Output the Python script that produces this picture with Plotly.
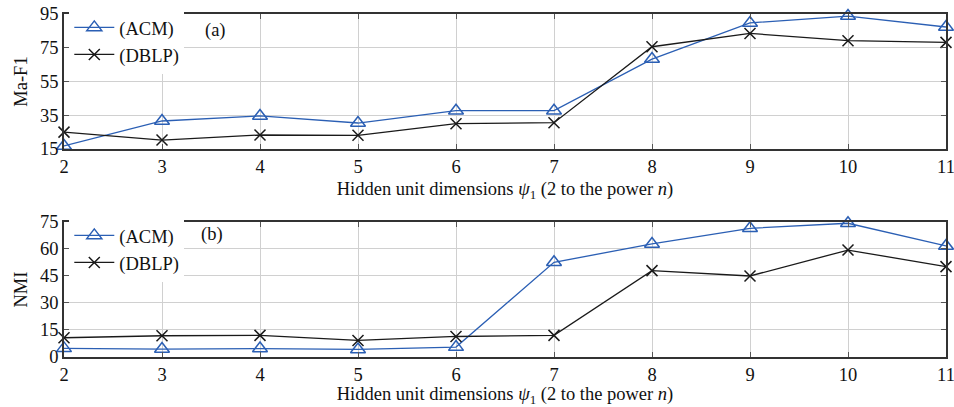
import plotly.graph_objects as go

n_values = [2, 3, 4, 5, 6, 7, 8, 9, 10, 11]
maf1_acm = [16.8, 31.6, 34.6, 30.4, 37.7, 37.7, 68.3, 89.7, 93.8, 87.3]
maf1_dblp = [25.0, 20.3, 23.3, 23.1, 30.0, 30.6, 75.6, 83.5, 79.2, 78.2]
nmi_acm = [4.8, 4.4, 4.7, 4.2, 5.5, 52.6, 62.8, 71.5, 74.3, 61.7]
nmi_dblp = [10.7, 11.8, 12.0, 9.2, 11.4, 12.0, 48.0, 45.0, 59.4, 50.2]
series_names = ["(ACM)", "(DBLP)"]
maf1_ticks = [15, 35, 55, 75, 95]
nmi_ticks = [0, 15, 30, 45, 60, 75]

BLUE = "#2B5FB4"
BLACK = "#1a1a1a"
FONT = "Liberation Serif"
FS = 18.5

fig = go.Figure()

def add(y, name, xa, ya, legend, acm):
    if acm:
        marker = dict(symbol="triangle-up-open", size=13, color=BLUE, line=dict(width=1.5, color=BLUE))
        line = dict(color=BLUE, width=1.3)
    else:
        marker = dict(symbol="x-thin-open", size=11, color=BLACK, line=dict(width=1.5, color=BLACK))
        line = dict(color=BLACK, width=1.3)
    fig.add_trace(go.Scatter(x=n_values, y=y, name=name, mode="lines+markers",
                             marker=marker, line=line, xaxis=xa, yaxis=ya,
                             legend=legend, cliponaxis=False))

add(maf1_acm, series_names[0], "x", "y", "legend", True)
add(maf1_dblp, series_names[1], "x", "y", "legend", False)
add(nmi_acm, series_names[0], "x2", "y2", "legend2", True)
add(nmi_dblp, series_names[1], "x2", "y2", "legend2", False)

xtitle = "Hidden unit dimensions <i>ψ</i><sub>1</sub> (2 to the power <i>n</i>)"
axis_common = dict(showline=True, linecolor="#333", linewidth=1.5, mirror="ticks",
                   ticks="inside", ticklen=5, tickcolor="#555", tickwidth=1,
                   showgrid=True, gridcolor="#d0d0d0", gridwidth=1, zeroline=False,
                   automargin=False, ticklabeloverflow="allow",
                   tickfont=dict(family=FONT, size=FS, color="#111"))

top_dom = [0.6064, 1.0]
bot_dom = [0.0, 0.3936]

fig.update_layout(
    width=954, height=407,
    margin=dict(l=64, r=8, t=14, b=50, autoexpand=False),
    paper_bgcolor="white", plot_bgcolor="white",
    font=dict(family=FONT, size=FS, color="#111"),
    xaxis=dict(domain=[0, 1], range=[2, 11], tickvals=n_values, anchor="y",
               title=dict(text=xtitle, standoff=6, font=dict(family=FONT, size=FS)), **axis_common),
    yaxis=dict(domain=top_dom, range=[15, 95], tickvals=maf1_ticks, anchor="x",
               title=dict(text="Ma-F1", standoff=8, font=dict(family=FONT, size=FS)), **axis_common),
    xaxis2=dict(domain=[0, 1], range=[2, 11], tickvals=n_values, anchor="y2",
                title=dict(text=xtitle, standoff=6, font=dict(family=FONT, size=FS)), **axis_common),
    yaxis2=dict(domain=bot_dom, range=[0, 75], tickvals=nmi_ticks, anchor="x2",
                title=dict(text="NMI", standoff=8, font=dict(family=FONT, size=FS)), **axis_common),
    legend=dict(x=0.006, y=1.015, xanchor="left", yanchor="top", bgcolor="white",
                borderwidth=0, font=dict(family=FONT, size=FS), tracegroupgap=0,
                itemwidth=40),
    legend2=dict(x=0.006, y=bot_dom[1] + 0.015, xanchor="left", yanchor="top", bgcolor="white",
                 borderwidth=0, font=dict(family=FONT, size=FS), tracegroupgap=0,
                 itemwidth=40),
    showlegend=True,
    annotations=[
        dict(text="(a)", x=3.55, y=85.5, xref="x", yref="y", showarrow=False,
             font=dict(family=FONT, size=FS)),
        dict(text="(b)", x=3.51, y=68.3, xref="x2", yref="y2", showarrow=False,
             font=dict(family=FONT, size=FS)),
    ],
)

fig.write_html("out.html",
               config={"displayModeBar": False},
               post_script="document.body.style.margin='0';document.body.style.overflow='hidden';")
